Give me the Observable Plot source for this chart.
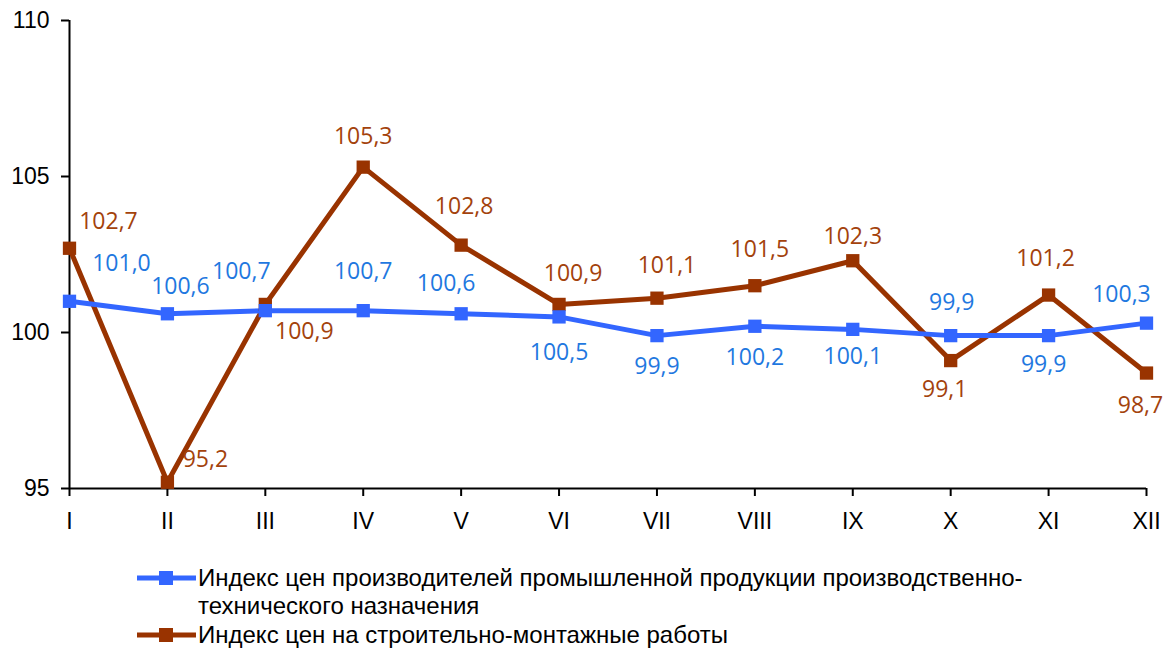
<!DOCTYPE html>
<html><head><meta charset="utf-8">
<script src="https://cdn.jsdelivr.net/npm/d3@7"></script>
<script src="https://cdn.jsdelivr.net/npm/@observablehq/plot@0.6"></script>
<style>
body{margin:0;background:#fff;}
#wrap{position:relative;width:1165px;height:651px;overflow:hidden;}
.leg{position:absolute;font-family:"Liberation Sans",Arial,sans-serif;font-size:24px;color:#000;line-height:28px;}
</style>
</head><body><div id="wrap"><div id="chart"></div>
<div class="leg" style="left:137px;top:564px;"><svg width="62" height="28" style="position:absolute;left:0;top:0"><line x1="0" x2="59" y1="14" y2="14" stroke="#3366FF" stroke-width="5"/><rect x="22" y="7" width="14" height="14" fill="#3366FF"/></svg><div style="position:absolute;left:61px;top:0;width:900px;white-space:nowrap">Индекс цен производителей промышленной продукции производственно-<br>технического назначения</div></div>
<div class="leg" style="left:137px;top:621px;"><svg width="62" height="28" style="position:absolute;left:0;top:0"><line x1="0" x2="59" y1="14" y2="14" stroke="#993300" stroke-width="5"/><rect x="22" y="7" width="14" height="14" fill="#993300"/></svg><div style="position:absolute;left:61px;top:0;width:900px;white-space:nowrap">Индекс цен на строительно-монтажные работы</div></div>
</div>
<script>
const months = ["I","II","III","IV","V","VI","VII","VIII","IX","X","XI","XII"];
const producerIndex = [101.0,100.6,100.7,100.7,100.6,100.5,99.9,100.2,100.1,99.9,99.9,100.3];
const constructionIndex = [102.7,95.2,100.9,105.3,102.8,100.9,101.1,101.5,102.3,99.1,101.2,98.7];
const yTicks = [95,100,105,110];
const seriesNames = ["Индекс цен производителей промышленной продукции производственно-технического назначения","Индекс цен на строительно-монтажные работы"];

// label offsets (layout only)
const blueOff = [[52,-38],[13,-27],[-24,-39],[0,-39],[-15,-30],[0,36],[0,31],[0,31],[0,27],[1,-33],[-5,29],[-25,-29]];
const brownOff = [[39,-27],[38,-23],[39,27],[0,-31],[3,-39],[14,-31],[10,-33],[5,-36],[0,-24],[-6,29],[-3,-36],[-6,33]];

const blue = months.map((m,i)=>({m, v: producerIndex[i]}));
const brown = months.map((m,i)=>({m, v: constructionIndex[i]}));
const fmt = v => v.toFixed(1).replace(".", ",");

const labelMarks = (data, offs, color) => data.map((d,i)=>Plot.text([d],{x:"m",y:"v",text:d=>fmt(d.v),dx:offs[i][0],dy:offs[i][1],fill:color,fontSize:23,fontFamily:"Open Sans, sans-serif"}));

const chart = Plot.plot({
  width:1165, height:545,
  marginLeft:69, marginRight:19, marginTop:20, marginBottom:57,
  style:{background:"#fff", fontFamily:"Liberation Sans, Arial, sans-serif"},
  x:{type:"point", domain:months, padding:0, round:false},
  y:{domain:[95,110]},
  marks:[
    Plot.axisY({ticks:yTicks, tickSize:8, tickPadding:12, fontSize:23, label:null, strokeWidth:2, fill:"#000", tickFormat:d=>String(d)}),
    Plot.axisX({tickSize:8, tickPadding:16, fontSize:23, label:null, strokeWidth:2, fill:"#000"}),
    Plot.ruleX(["I"],{y1:95,y2:110,stroke:"#000",strokeWidth:2}),
    Plot.ruleY([95],{stroke:"#000",strokeWidth:2}),
    Plot.line(brown,{x:"m",y:"v",stroke:"#993300",strokeWidth:5}),
    Plot.line(blue,{x:"m",y:"v",stroke:"#3366FF",strokeWidth:5}),
    Plot.dot(brown,{x:"m",y:"v",symbol:"square",r:7.5,fill:"#993300",stroke:null}),
    Plot.dot(blue,{x:"m",y:"v",symbol:"square",r:7.5,fill:"#3366FF",stroke:null}),
    ...labelMarks(blue, blueOff, "#1F78E0"),
    ...labelMarks(brown, brownOff, "#A3420C")
  ]
});
document.getElementById("chart").appendChild(chart);
</script>
</body></html>
